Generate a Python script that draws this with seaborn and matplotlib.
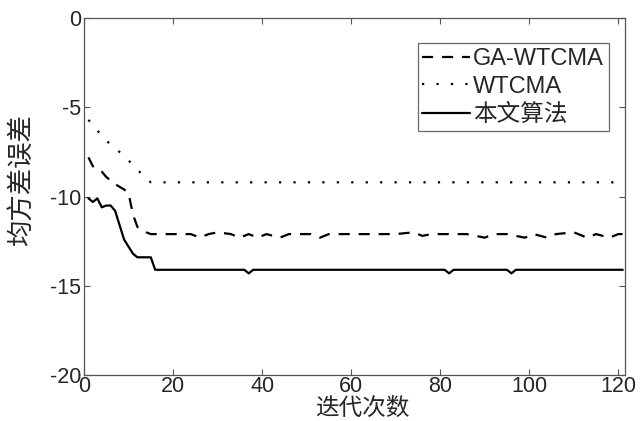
import pandas as pd
import matplotlib
matplotlib.use('Agg')
import matplotlib.pyplot as plt
import seaborn as sns

# iterations / values
ga_x = [1, 2, 4, 5, 7, 9, 10, 11, 12, 14, 15, 20, 24, 26, 28, 30, 33, 35, 37, 39, 41, 44, 46, 51, 53, 55,
        62, 66, 70, 74, 76, 78, 82, 86, 90, 92, 95, 99, 101, 104, 106, 110, 113, 115, 118, 120, 121]
ga_y = [-7.8, -8.3, -8.6, -8.9, -9.3, -9.6, -9.8, -11.0, -11.7, -12.0, -12.1, -12.1, -12.1, -12.3, -12.1, -12.0,
        -12.1, -12.3, -12.1, -12.3, -12.1, -12.3, -12.1, -12.1, -12.3, -12.1,
        -12.1, -12.1, -12.1, -12.0, -12.2, -12.1, -12.1, -12.1, -12.3, -12.1, -12.1, -12.3, -12.1, -12.3, -12.1,
        -12.0, -12.3, -12.1, -12.3, -12.1, -12.1]

wt_x = [1, 3, 6, 9, 12, 15, 121]
wt_y = [-5.7, -6.3, -7.1, -7.7, -8.5, -9.2, -9.2]

our_x = [1, 2, 3, 4, 5, 6, 7, 8, 9, 10, 11, 12, 15, 16, 36, 37, 38, 81, 82, 83, 95, 96, 97, 121]
our_y = [-10.1, -10.3, -10.1, -10.6, -10.5, -10.5, -10.8, -11.6, -12.4, -12.8, -13.2, -13.4, -13.4, -14.1,
         -14.1, -14.3, -14.1, -14.1, -14.3, -14.1, -14.1, -14.3, -14.1, -14.1]

labels = ['GA-WTCMA', 'WTCMA', '本文算法']
xticks = [0, 20, 40, 60, 80, 100, 120]
yticks = [0, -5, -10, -15, -20]

sns.set_style('ticks')
plt.rcParams['font.family'] = ['Liberation Sans', 'Noto Sans CJK SC']
plt.rcParams['axes.unicode_minus'] = False

fig = plt.figure(figsize=(6.41, 4.21), dpi=100)
ax = fig.add_axes([0.131, 0.109, 0.844, 0.848])

sns.lineplot(x=ga_x, y=ga_y, ax=ax, color='black', lw=1.6,
             linestyle=(0, (5, 4)), label=labels[0])
sns.lineplot(x=wt_x, y=wt_y, ax=ax, color='black', lw=1.6,
             linestyle=(0, (1, 5.5)), label=labels[1])
sns.lineplot(x=our_x, y=our_y, ax=ax, color='black', lw=1.6,
             linestyle='-', label=labels[2])

ax.set_xlim(0, 121.5)
ax.set_ylim(-20, 0)
ax.set_xticks(xticks)
ax.set_yticks(yticks)
ax.tick_params(direction='in', top=True, right=True, length=4, labelsize=15.5,
               color='#555555', pad=2)
ax.tick_params(axis='x', pad=0.5)
for s in ax.spines.values():
    s.set_color('#555555')
    s.set_linewidth(0.9)

ax.set_xlabel('迭代次数', fontsize=17, family=['Noto Sans CJK SC'])
ax.set_ylabel('均方差误差', fontsize=19, family=['Noto Sans CJK SC'])
ax.xaxis.set_label_coords(0.514, -0.062)
ax.yaxis.set_label_coords(-0.09, 0.545)

leg = ax.legend(loc='upper right', bbox_to_anchor=(0.97, 0.93), fontsize=17,
                frameon=True, fancybox=False, handlelength=2.0, handletextpad=0.15,
                borderpad=0.2, labelspacing=0.25, borderaxespad=0)
leg.get_frame().set_edgecolor('#444444')
leg.get_frame().set_linewidth(0.9)

plt.savefig('out.png', dpi=100)
